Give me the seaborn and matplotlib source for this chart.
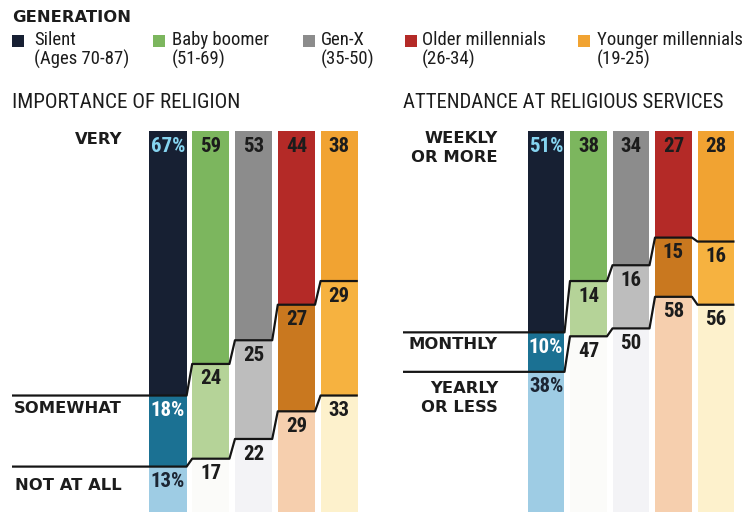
import numpy as np
import pandas as pd
import matplotlib
matplotlib.use("Agg")
import matplotlib.pyplot as plt
from matplotlib.patches import Rectangle
import seaborn as sns

generations = ["Silent", "Baby boomer", "Gen-X", "Older millennials", "Younger millennials"]
gen_ages = ["(Ages 70-87)", "(51-69)", "(35-50)", "(26-34)", "(19-25)"]

importance_levels = ["VERY", "SOMEWHAT", "NOT AT ALL"]
importance_very = [67, 59, 53, 44, 38]
importance_somewhat = [18, 24, 25, 27, 29]
importance_not = [13, 17, 22, 29, 33]

attendance_levels = ["WEEKLY\nOR MORE", "MONTHLY", "YEARLY\nOR LESS"]
attendance_weekly = [51, 38, 34, 27, 28]
attendance_monthly = [10, 14, 16, 15, 16]
attendance_yearly = [38, 47, 50, 58, 56]

# shades per generation: top / middle / bottom segment
top_colors = ["#172033", "#7cb65e", "#8c8c8c", "#b42a27", "#f1a332"]
mid_colors = ["#1b7193", "#b5d398", "#bdbdbd", "#c9781f", "#f6b240"]
low_colors = ["#9ecce4", "#fbfbf9", "#f3f3f6", "#f6cfae", "#fdf1cc"]
first_label_colors = ["#86d4f0", "#ffffff", "#1c2533"]

W, H = 755, 512
BAR_W = 0.87
NARROW = ["Roboto Condensed", "Open Sans Condensed", "DejaVu Sans"]
WIDE = ["DejaVu Sans"]
TXT = "#1c1c1c"

sns.set_theme(style="white")
plt.rcParams["font.family"] = NARROW
plt.rcParams["font.stretch"] = "condensed"

fig = plt.figure(figsize=(W / 100, H / 100), dpi=100)


def px_axes(left, right, top, bottom):
    return fig.add_axes([left / W, 1 - bottom / H, (right - left) / W, (bottom - top) / H])


def draw_panel(ax, segs, levels, xlim, label_x, label_offsets):
    s1, s2, s3 = [np.array(s, dtype=float) for s in segs]
    c1 = s1
    c2 = s1 + s2
    c3 = np.maximum(s1 + s2 + s3, 100)
    # back to front so each layer covers the one below
    for cum, cols in [(c3, low_colors), (c2, mid_colors), (c1, top_colors)]:
        df = pd.DataFrame({"gen": generations, "val": cum})
        sns.barplot(data=df, x="gen", y="val", hue="gen", palette=cols,
                    width=BAR_W, saturation=1, legend=False, ax=ax,
                    linewidth=0, edgecolor="none")
    ax.set_xlim(*xlim)
    ax.set_ylim(96.5, 0)
    ax.axis("off")

    # boundary step lines
    for cum in [c1, c2]:
        xs = [xlim[0], BAR_W / 2]
        ys = [cum[0], cum[0]]
        for i in range(1, 5):
            xs += [i - BAR_W / 2, i + BAR_W / 2]
            ys += [cum[i], cum[i]]
        ax.plot(xs, ys, color="#151515", lw=1.6, clip_on=False,
                solid_capstyle="butt", zorder=5)

    # values in segments
    tops = [np.zeros(5), c1, c2]
    for k, seg in enumerate([s1, s2, s3]):
        for i in range(5):
            txt = f"{int(seg[i])}%" if i == 0 else f"{int(seg[i])}"
            col = first_label_colors[k] if i == 0 else TXT
            ax.annotate(txt, (i, tops[k][i]), xytext=(0, -4), textcoords="offset points",
                        ha="center", va="top", fontsize=15, fontweight="bold",
                        color=col, zorder=6)

    # level labels on the left
    ref = [0, c1[0], c2[0]]
    for k, lab in enumerate(levels):
        ax.text(label_x, ref[k] + label_offsets[k], lab, ha="right", va="top",
                fontsize=11.8, fontweight="bold", color=TXT, family=WIDE,
                fontstretch="normal", linespacing=1.35)


# left panel: bar centres at 168 px, step 42.8 px
ax1 = px_axes(12, 360, 131, 512)
draw_panel(ax1, [importance_very, importance_somewhat, importance_not],
           importance_levels, ((12 - 168) / 42.8, (360 - 168) / 42.8),
           (122 - 168) / 42.8, [0.3, 1.3, 2.8])

# right panel: bar centres at 546 px, step 42.5 px
ax2 = px_axes(403, 737, 131, 512)
draw_panel(ax2, [attendance_weekly, attendance_monthly, attendance_yearly],
           attendance_levels, ((403 - 546) / 42.5, (737 - 546) / 42.5),
           (498 - 546) / 42.5, [0.0, 1.3, 2.2])

# panel titles
fig.text(12 / W, 1 - 103 / H, "IMPORTANCE OF RELIGION", fontsize=15.2,
         color=TXT, va="center", ha="left")
fig.text(403 / W, 1 - 103 / H, "ATTENDANCE AT RELIGIOUS SERVICES", fontsize=14.9,
         color=TXT, va="center", ha="left")

# legend
fig.text(12 / W, 1 - 17 / H, "GENERATION", fontsize=11.8, fontweight="bold",
         color=TXT, va="center", ha="left", family=WIDE, fontstretch="normal")
sq_x = [12, 153, 303, 405, 578]
txt_x = [34, 172, 321, 422, 597]
for i, gen in enumerate(generations):
    fig.patches.append(Rectangle((sq_x[i] / W, 1 - 47 / H), 12 / W, 12 / H,
                                 transform=fig.transFigure, facecolor=top_colors[i],
                                 edgecolor="none"))
    fig.text(txt_x[i] / W, 1 - 31 / H, gen + "\n" + gen_ages[i], fontsize=13.5,
             color=TXT, va="top", ha="left", linespacing=1.05)

fig.savefig("out.png", dpi=100)
